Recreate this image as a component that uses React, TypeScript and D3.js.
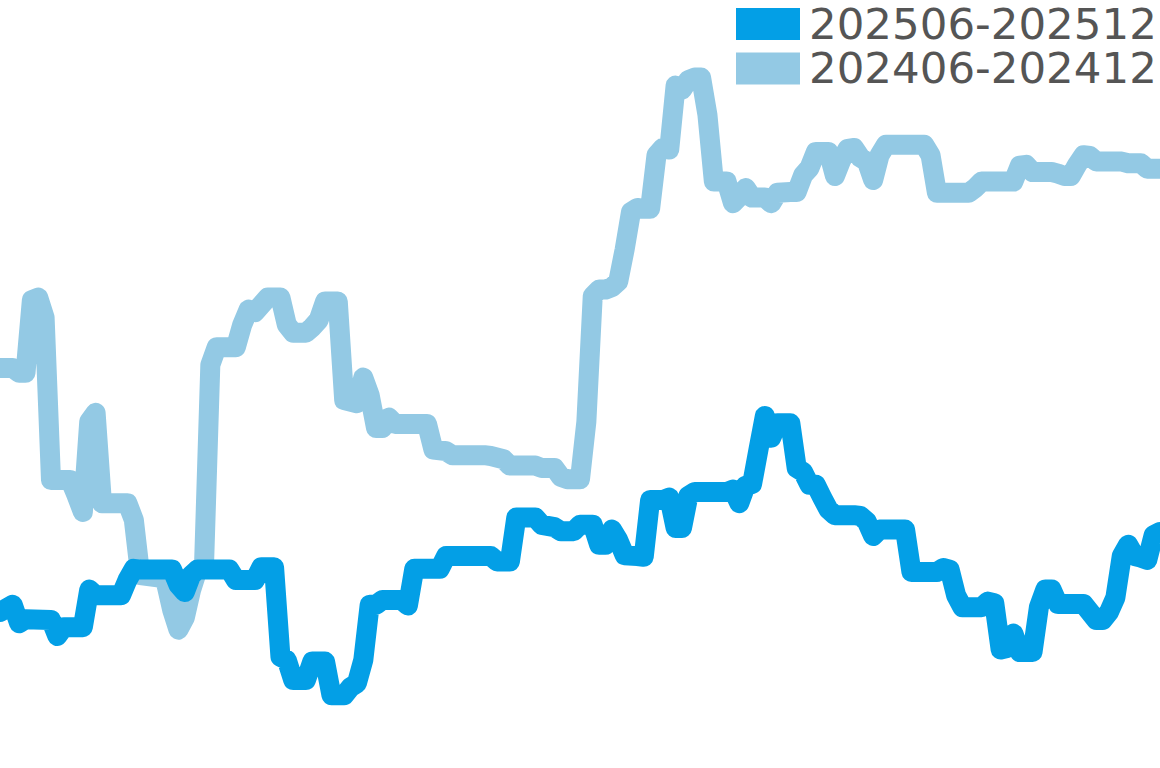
import { useEffect } from "react"
import * as d3 from "d3"

// day index within the six-month window, value
const seriesLabels = ["202506-202512", "202406-202412"]
const seriesColors = ["#039fe6", "#93c9e4"]

const current: [number, number][] = [
  [0, 19.5], [2, 20.4], [3, 18.1], [4, 18.6], [8, 18.5], [9, 16.5], [10, 17.6], [13, 17.6],
  [14, 22.3], [15, 21.6], [19, 21.6], [20, 23.5], [21, 24.9], [22, 24.8], [27, 24.8], [28, 22.9],
  [29, 22.0], [30, 24.1], [31, 24.8], [36, 24.8], [37, 23.5], [40, 23.5], [41, 25.1], [43, 25.1],
  [44, 13.9], [45, 13.5], [46, 11.0], [48, 11.0], [49, 13.3], [51, 13.3], [52, 9.1], [54, 9.1],
  [55, 10.1], [56, 10.6], [57, 13.5], [58, 20.4], [59, 20.4], [60, 21.0], [63, 21.0], [64, 20.3],
  [65, 24.9], [69, 24.9], [70, 26.5], [77, 26.5], [78, 25.8], [80, 25.8], [81, 31.3], [84, 31.3],
  [85, 30.4], [87, 30.1], [88, 29.6], [90, 29.6], [91, 30.4], [93, 30.4], [94, 27.9], [95, 27.9],
  [96, 29.8], [97, 28.5], [98, 26.6], [100, 26.5], [101, 26.4], [102, 33.5], [104, 33.5], [105, 33.8],
  [106, 30.0], [107, 30.0], [108, 34.0], [109, 34.5], [114, 34.5], [115, 34.8], [116, 33.1], [117, 35.3],
  [118, 35.5], [119, 39.8], [120, 44.0], [121, 41.3], [122, 43.1], [124, 43.1], [125, 37.5], [126, 37.0],
  [127, 35.4], [128, 35.4], [129, 33.8], [130, 32.3], [131, 31.6], [134, 31.6], [135, 31.5], [136, 30.8],
  [137, 29.0], [138, 29.8], [142, 29.8], [143, 24.5], [147, 24.5], [148, 25.0], [149, 24.8], [150, 21.6],
  [151, 20.1], [154, 20.1], [155, 20.8], [156, 20.6], [157, 14.8], [158, 15.0], [159, 16.8], [160, 14.5],
  [162, 14.5], [163, 20.1], [164, 22.3], [165, 22.3], [166, 20.5], [170, 20.5], [171, 19.5], [172, 18.5],
  [173, 18.5], [174, 19.5], [175, 21.3], [176, 26.5], [177, 27.9], [178, 26.5], [179, 26.3], [180, 26.0],
  [181, 29.1], [182, 29.5],
]

const previous: [number, number][] = [
  [0, 50.0], [2, 50.0], [3, 49.4], [4, 49.4], [5, 58.5], [6, 58.8], [7, 56.3], [8, 36.0],
  [11, 36.0], [12, 34.1], [13, 32.0], [14, 43.3], [15, 44.4], [16, 33.1], [20, 33.1], [21, 31.0],
  [22, 24.1], [25, 23.8], [26, 23.3], [27, 19.8], [28, 17.3], [29, 18.8], [30, 22.3], [31, 24.8],
  [32, 25.1], [33, 50.4], [34, 52.6], [37, 52.6], [38, 55.4], [39, 57.3], [40, 57.0], [41, 57.9],
  [42, 58.8], [44, 58.8], [45, 55.4], [46, 54.4], [48, 54.4], [49, 55.1], [50, 56.0], [51, 58.3],
  [53, 58.3], [54, 46.0], [56, 45.6], [57, 48.8], [58, 46.6], [59, 42.5], [60, 42.5], [61, 43.8],
  [62, 43.0], [67, 43.0], [68, 39.8], [70, 39.6], [71, 39.1], [76, 39.1], [77, 39.0], [79, 38.6],
  [80, 37.8], [84, 37.8], [85, 37.5], [87, 37.5], [88, 36.4], [89, 36.1], [91, 36.1], [92, 43.3],
  [93, 59.0], [94, 59.8], [95, 59.8], [96, 60.1], [97, 60.8], [98, 64.8], [99, 69.5], [100, 70.0],
  [101, 69.9], [102, 69.9], [103, 76.6], [104, 77.5], [105, 77.3], [106, 85.3], [107, 84.8], [108, 86.0],
  [109, 86.3], [110, 86.3], [111, 81.6], [112, 73.3], [114, 73.3], [115, 70.6], [116, 71.4], [117, 72.5],
  [118, 71.3], [120, 71.3], [121, 70.6], [122, 71.9], [124, 72.0], [125, 72.0], [126, 74.1], [127, 75.0],
  [128, 77.0], [130, 77.0], [131, 74.0], [132, 76.0], [133, 77.4], [134, 77.5], [135, 76.3], [136, 75.8],
  [137, 73.5], [138, 76.6], [139, 77.9], [145, 77.9], [146, 76.6], [147, 71.9], [152, 71.9], [153, 72.5],
  [154, 73.3], [159, 73.3], [160, 75.3], [161, 75.4], [162, 74.5], [165, 74.5], [166, 74.3], [167, 74.0],
  [168, 74.0], [169, 75.4], [170, 76.6], [171, 76.5], [172, 75.8], [176, 75.8], [177, 75.6], [179, 75.6],
  [180, 74.9], [182, 74.9],
]

const width = 1160
const height = 768

export default function App() {
  useEffect(() => {
    document.body.style.margin = "0"
  }, [])

  const x = d3.scaleLinear().domain([0, 182]).range([0, width])
  const y = d3.scaleLinear().domain([0, 96]).range([height, 0])
  const line = d3
    .line<[number, number]>()
    .x((d) => x(d[0]))
    .y((d) => y(d[1]))

  // older period underneath, current period on top
  const lines = [previous, current]
  const lineColors = [seriesColors[1], seriesColors[0]]

  return (
    <svg width={width} height={height} style={{ display: "block" }}>
      <g>
        {lines.map((s, i) => (
          <path
            key={i}
            d={line(s) || ""}
            fill="none"
            stroke={lineColors[i]}
            strokeWidth={20}
            strokeLinejoin="round"
            strokeLinecap="round"
          />
        ))}
      </g>
      <g transform="translate(736, 8)" fontFamily="DejaVu Sans" fontSize={43.5} fill="#555">
        {seriesLabels.map((label, i) => (
          <g key={label} transform={`translate(0, ${i * 44.5})`}>
            <rect width={64} height={32} fill={seriesColors[i]} />
            <text x={73} y={30.5}>
              {label}
            </text>
          </g>
        ))}
      </g>
    </svg>
  )
}
